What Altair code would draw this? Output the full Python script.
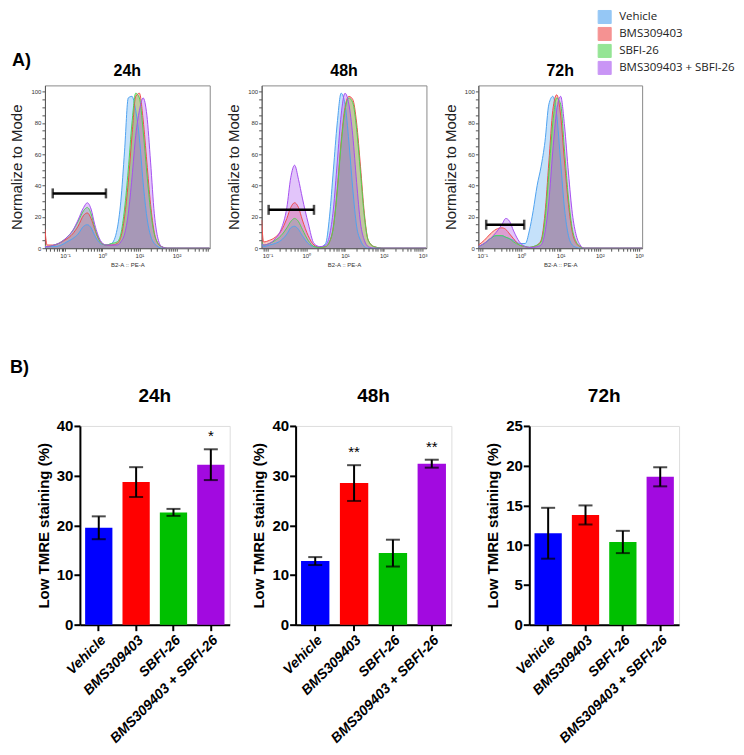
import math
import altair as alt
import pandas as pd

# ---------------- data ----------------
treatments = ["Vehicle", "BMS309403", "SBFI-26", "BMS309403 + SBFI-26"]
hist_colors = ["#4FA3F0", "#F04B4B", "#4FD44F", "#A64FF0"]
bar_colors = ["#0000FF", "#FF0000", "#00C000", "#A20AE0"]

# Panel A: overlays, x = log10(B2-A :: PE-A), y = % of mode
x_24 = [-1.54, -1.48, -1.3, -1.1, -0.95, -0.8, -0.65, -0.5, -0.4, -0.3, -0.2, -0.05, 0.1, 0.25, 0.4,
        0.5, 0.6, 0.7, 0.8, 0.9, 1.0, 1.1, 1.2, 1.3, 1.4, 1.5, 1.6, 1.75, 2.0, 2.5, 2.89]
veh_24 = [0, 1, 1, 2, 4, 6, 9, 14, 15, 13, 8, 3, 2, 3, 12, 30, 62, 96, 97, 88, 70, 42, 20, 8, 3, 1, 0, 0, 0, 0, 0]
bms_24 = [12, 2, 2, 4, 6, 9, 14, 21, 22.5, 19, 12, 4, 2, 2, 3, 7, 20, 42, 72, 97, 99, 82, 55, 28, 10, 3, 1, 0, 0, 0, 0]
sbfi_24 = [2, 1, 2, 4, 7, 11, 17, 24, 26, 22, 13, 4, 2, 3, 4, 9, 25, 50, 80, 99, 96, 75, 48, 24, 9, 3, 1, 0, 0, 0, 0]
combo_24 = [1, 1, 2, 4, 7, 11, 18, 26, 29, 25, 15, 5, 2, 2, 2, 4, 9, 22, 45, 72, 88, 96, 85, 55, 22, 6, 1, 0, 0, 0, 0]

x_48 = [-1.15, -1.1, -0.95, -0.8, -0.65, -0.5, -0.4, -0.3, -0.2, -0.1, 0.05, 0.2, 0.35, 0.5, 0.6,
        0.7, 0.8, 0.9, 1.0, 1.1, 1.2, 1.3, 1.4, 1.5, 1.6, 1.75, 2.0, 2.5, 3.1]
veh_48 = [3, 1, 2, 3, 5, 9, 13, 14, 12, 8, 3, 1, 0.5, 3, 20, 50, 80, 99, 92, 68, 38, 14, 5, 1, 0, 0, 0, 0, 0]
bms_48 = [18, 4, 5, 7, 11, 19, 26, 29, 26, 18, 8, 2, 0.5, 1, 4, 14, 38, 68, 90, 97, 95, 80, 52, 22, 5, 1, 0, 0, 0]
sbfi_48 = [4, 2, 3, 5, 8, 13, 17, 19, 17, 12, 5, 1, 0.5, 1, 4, 13, 36, 66, 88, 96, 93, 76, 48, 20, 5, 1, 0, 0, 0]
combo_48 = [3, 2, 3, 6, 12, 26, 45, 53, 44, 32, 16, 3, 1, 2, 8, 25, 55, 85, 99, 92, 72, 42, 16, 5, 1, 0, 0, 0, 0]

x_72 = [-1.1, -0.95, -0.8, -0.65, -0.5, -0.4, -0.3, -0.2, -0.05, 0.1, 0.2, 0.3, 0.4, 0.5, 0.6,
        0.7, 0.8, 0.9, 1.0, 1.1, 1.2, 1.3, 1.4, 1.5, 1.6, 1.75, 2.0, 2.5, 3.08]
veh_72 = [1, 3, 6, 8, 8, 7, 6, 5, 3, 3, 11, 24, 40, 52, 68, 92, 97, 85, 55, 25, 8, 2, 0.5, 0, 0, 0, 0, 0, 0]
bms_72 = [2, 5, 9, 12, 13, 12, 9, 6, 2, 1, 0.5, 1, 2, 5, 22, 55, 88, 98, 85, 55, 28, 10, 3, 1, 0, 0, 0, 0, 0]
sbfi_72 = [1, 3, 6, 8, 8, 7, 6, 4, 2, 1, 0.5, 1, 2, 4, 18, 48, 80, 96, 92, 62, 32, 12, 4, 1, 0, 0, 0, 0, 0]
combo_72 = [1, 3, 6, 10, 15, 19, 17, 11, 4, 1, 0.5, 0.5, 1, 2, 10, 30, 62, 88, 97, 78, 48, 22, 8, 2, 0, 0, 0, 0, 0]

# Gates (log10 bounds and level in % of mode)
gate_lo = [-1.33, -0.97, -0.9]
gate_hi = [0.10, 0.20, 0.07]
gate_level = [35, 24.5, 15]

# Panel B: low TMRE staining (%)
mean_24 = [19.5, 28.7, 22.6, 32.2]
err_24 = [2.3, 3.0, 0.7, 3.1]
sig_24 = ["", "", "", "*"]
mean_48 = [12.8, 28.5, 14.4, 32.4]
err_48 = [0.8, 3.6, 2.7, 0.8]
sig_48 = ["", "**", "", "**"]
mean_72 = [11.5, 13.8, 10.4, 18.6]
err_72 = [3.2, 1.2, 1.4, 1.2]
sig_72 = ["", "", "", ""]

FONT = "Liberation Sans"

# ---------------- helpers ----------------
sup = {-1: "10\u207b\u00b9", 0: "10\u2070", 1: "10\u00b9", 2: "10\u00b2", 3: "10\u00b3"}


def log_ticks(dom):
    vals = []
    for d in range(-2, 4):
        for k in range(1, 10):
            v = d + math.log10(k)
            if dom[0] - 1e-9 <= v <= dom[1] + 1e-9:
                vals.append(round(v, 4))
    return vals


def label_expr(dom):
    parts = []
    for d, s in sup.items():
        if dom[0] <= d <= dom[1]:
            parts.append(f"abs(datum.value - ({d})) < 0.001 ? '{s}'")
    return " : ".join(parts) + " : ''"


def text_layer(txt, x, y, size):
    return alt.Chart(pd.DataFrame({"t": [txt]})).mark_text(
        align="left", baseline="middle", font=FONT, fontSize=size, fontWeight="bold",
        color="black").encode(x=alt.value(x), y=alt.value(y), text="t:N")


def title_layer(txt, x, y, size):
    return alt.Chart(pd.DataFrame({"t": [txt]})).mark_text(
        align="center", baseline="middle", font=FONT, fontSize=size, fontWeight="bold",
        color="black").encode(x=alt.value(x), y=alt.value(y), text="t:N")


def spacer():
    return alt.Chart(pd.DataFrame({"t": [""]})).mark_text().encode(text="t:N").properties(width=1, height=1)


def hist_panel(name, xs, series, dom, gi, width, letter=None, legend=False):
    rows = []
    for t, ys in zip(treatments, series):
        for xv, yv in zip(xs, ys):
            rows.append({"logx": xv, "pct": yv, "treatment": t})
    df = pd.DataFrame(rows)
    height = 163
    xscale = alt.Scale(domain=dom, nice=False, zero=False)
    yscale = alt.Scale(domain=[0, 104], nice=False)
    xtitle = "B2-A :: PE-A"
    ytitle = "Normalize to Mode"
    x_axis = alt.Axis(values=log_ticks(dom), labelExpr=label_expr(dom), grid=False,
                      labelFontSize=6, labelColor="#333", labelPadding=1, labelOverlap=False,
                      labelFlush=False, tickSize=3, tickColor="#555", domainColor="#555",
                      titleFontSize=6, titleFontWeight="normal", titleColor="#333", titlePadding=3,
                      titleFont=FONT, labelFont=FONT)
    y_axis = alt.Axis(values=list(range(0, 101, 5)),
                      labelExpr="datum.value % 20 == 0 ? datum.label : ''", grid=False,
                      labelFontSize=6, labelColor="#333", labelPadding=1, labelOverlap=False,
                      tickSize=3, tickColor="#555", domainColor="#555",
                      titleFontSize=15, titleFontWeight="normal", titleColor="#222",
                      titlePadding=6, titleFont=FONT, labelFont=FONT)

    def X(f):
        return alt.X(f, scale=xscale, title=xtitle, axis=x_axis)

    def Y(f):
        return alt.Y(f, stack=None, scale=yscale, title=ytitle, axis=y_axis)

    if legend:
        leg = alt.Legend(orient="none", legendX=119, legendY=-76, title=None, symbolType="square",
                         symbolSize=170, symbolStrokeColor="#222", symbolStrokeWidth=1,
                         symbolOpacity=0.6, padding=0,
                         labelFont="Open Sans", labelFontSize=11.5, labelColor="#222", rowPadding=-2,
                         labelOffset=7)
    else:
        leg = None
    area = alt.Chart(df).mark_area(interpolate="monotone", fillOpacity=0.33, clip=True,
                                   line={"strokeWidth": 1}).encode(
        x=X("logx:Q"), y=Y("pct:Q"),
        color=alt.Color("treatment:N", sort=treatments,
                        scale=alt.Scale(domain=treatments, range=hist_colors), legend=leg),
    )
    gdf = pd.DataFrame({"logx": [gate_lo[gi]], "hi": [gate_hi[gi]], "pct": [gate_level[gi]]})
    gate = alt.Chart(gdf).mark_rule(color="black", strokeWidth=2.5).encode(
        x=X("logx:Q"), x2="hi:Q", y=Y("pct:Q"))
    edf = pd.DataFrame({"logx": [gate_lo[gi], gate_hi[gi]], "pct": [gate_level[gi]] * 2})
    ends = alt.Chart(edf).mark_tick(color="black", thickness=2.5, size=10, orient="vertical").encode(
        x=X("logx:Q"), y=Y("pct:Q"))
    layers = [area, gate, ends, title_layer(name, width / 2, -14, 16)]
    if letter:
        layers.append(text_layer(letter, -33, -24, 18))
    return alt.layer(*layers).properties(
        width=width, height=height,
        view=alt.ViewBackground(stroke="#8a8a8a", strokeWidth=1),
    )


def bar_panel(name, means, errs, sigs, ymax, ystep, width, letter=None):
    df = pd.DataFrame({"treatment": treatments, "mean": means, "err": errs, "sig": sigs})
    base = alt.Chart(df).transform_calculate(lo="datum.mean - datum.err", hi="datum.mean + datum.err")
    ytitle = "Low TMRE staining (%)"
    x_enc = alt.X("treatment:N", sort=treatments, title=None,
                  scale=alt.Scale(paddingInner=0.27, paddingOuter=0.14),
                  axis=alt.Axis(labelAngle=-45, labelFont=FONT, labelFontSize=14, labelFontWeight="bold",
                                labelFontStyle="italic", labelColor="black", labelPadding=2,
                                domainColor="black", domainWidth=2, tickColor="black", tickWidth=2,
                                tickSize=6, labelOverlap=False))
    yscale = alt.Scale(domain=[0, ymax], nice=False)
    y_axis = alt.Axis(values=list(range(0, ymax + 1, ystep)), grid=False, labelFont=FONT, labelFontSize=15,
                      labelFontWeight="bold", labelColor="black", labelPadding=1, domainColor="black",
                      domainWidth=2, tickColor="black", tickWidth=2, tickSize=6, titleFont=FONT,
                      titleFontSize=15, titleFontWeight="bold", titleColor="black", titlePadding=5,
                      labelOverlap=False)

    def Y(f):
        return alt.Y(f, scale=yscale, axis=y_axis, title=ytitle)

    bars = base.mark_bar().encode(
        x=x_enc, y=Y("mean:Q"),
        color=alt.Color("treatment:N", sort=treatments,
                        scale=alt.Scale(domain=treatments, range=bar_colors), legend=None))
    rule = base.mark_rule(color="black", strokeWidth=2).encode(x=x_enc, y=Y("lo:Q"), y2="hi:Q")
    caps = base.transform_fold(["lo", "hi"], as_=["end", "val"]).mark_tick(
        color="black", thickness=2, size=14, orient="horizontal").encode(x=x_enc, y=Y("val:Q"))
    stars = base.mark_text(baseline="bottom", dy=-5, font=FONT, fontSize=15, color="black").encode(
        x=x_enc, y=Y("hi:Q"), text="sig:N")
    layers = [bars, rule, caps, stars, title_layer(name, width / 2, -30, 19)]
    if letter:
        layers.append(text_layer(letter, -70, -58, 18))
    return alt.layer(*layers).properties(width=width, height=199)


h24 = hist_panel("24h", x_24, [veh_24, bms_24, sbfi_24, combo_24], [-1.54, 2.89], 0, 165, letter="A)")
h48 = hist_panel("48h", x_48, [veh_48, bms_48, sbfi_48, combo_48], [-1.15, 3.1], 1, 165)
h72 = hist_panel("72h", x_72, [veh_72, bms_72, sbfi_72, combo_72], [-1.1, 3.08], 2, 164, legend=True)

b24 = bar_panel("24h", mean_24, err_24, sig_24, 40, 10, 150, letter="B)")
b48 = bar_panel("48h", mean_48, err_48, sig_48, 40, 10, 156)
b72 = bar_panel("72h", mean_72, err_72, sig_72, 25, 5, 150)

top_inner = alt.hconcat(h24, h48, h72, spacing=15).resolve_scale(color="independent")
bottom_right = alt.hconcat(b48, b72, spacing=32)
bottom_inner = alt.hconcat(b24, bottom_right, spacing=20)
top = alt.hconcat(spacer(), top_inner, spacing=0).resolve_scale(color="independent")
bottom = alt.hconcat(spacer(), bottom_inner, spacing=0)

chart = alt.vconcat(top, bottom, spacing=90).resolve_scale(color="independent").properties(
    padding={"left": 0, "top": 0, "right": 0, "bottom": 0}
).configure_view(strokeWidth=0).configure(font=FONT)

chart.save("out.html", embed_options={"renderer": "svg", "actions": False})
